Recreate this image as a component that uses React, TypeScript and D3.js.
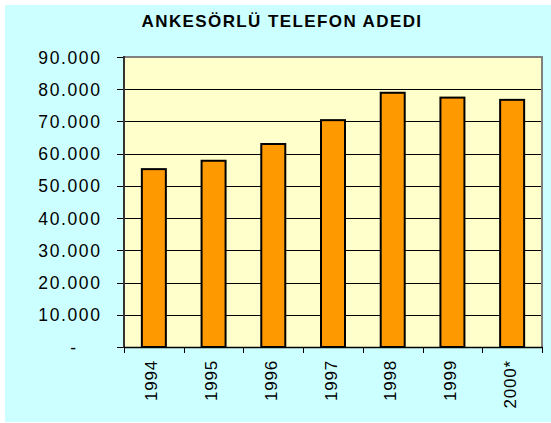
import React from "react";
import * as d3 from "d3";

const years = ["1994", "1995", "1996", "1997", "1998", "1999", "2000*"];
const counts = [55200, 57800, 63000, 70400, 78900, 77400, 76700];
const yTicks = [0, 10000, 20000, 30000, 40000, 50000, 60000, 70000, 80000, 90000];
const titleText = "ANKESÖRLÜ TELEFON ADEDI";

const W = 551;
const H = 423;
const plot = { left: 124, right: 542, top: 57, bottom: 347 };
const FONT = "'Liberation Sans', Arial, sans-serif";

function fmt(v: number): string {
  if (v === 0) return "-";
  return d3.format(",")(v).replace(/,/g, ".");
}

export default function App() {
  const x = d3
    .scaleBand<string>()
    .domain(years)
    .range([plot.left, plot.right])
    .paddingInner(0.6)
    .paddingOuter(0.3);
  const step = (plot.right - plot.left) / years.length;
  const bw = 24;
  const y = d3.scaleLinear().domain([0, 90000]).range([plot.bottom, plot.top]);

  return (
    <svg
      width={W}
      height={H}
      style={{ position: "absolute", left: 0, top: 0 }}
      fontFamily={FONT}
    >
      <rect x={0} y={0} width={W} height={H} fill="#ffffff" />
      <rect x={5} y={5} width={W - 5} height={H - 6} fill="#ccffff" />
      <text
        x={282}
        y={27}
        textAnchor="middle"
        fontSize={17}
        fontWeight="bold"
        letterSpacing={1.4}
        fill="#000"
      >
        {titleText}
      </text>
      <rect
        x={plot.left}
        y={plot.top}
        width={plot.right - plot.left}
        height={plot.bottom - plot.top}
        fill="#ffffcc"
      />
      {yTicks.map((t) => (
        <g key={t}>
          {t > 0 && (
            <line
              x1={plot.left}
              x2={plot.right}
              y1={Math.round(y(t)) + 0.5}
              y2={Math.round(y(t)) + 0.5}
              stroke="#000"
              strokeWidth={1}
            />
          )}
          <line
            x1={plot.left - 7}
            x2={plot.left}
            y1={Math.round(y(t)) + 0.5}
            y2={Math.round(y(t)) + 0.5}
            stroke="#000"
          />
          <text
            x={t === 0 ? 76 : 101.5}
            y={y(t) + 6.5}
            textAnchor="end"
            fontSize={17.5}
            letterSpacing={t === 0 ? 0 : 1.6}
            fill="#000"
          >
            {fmt(t)}
          </text>
        </g>
      ))}
      <line x1={plot.right} x2={plot.right} y1={plot.top} y2={plot.bottom} stroke="#808080" strokeWidth={2} />
      <line x1={plot.left} x2={plot.right + 1} y1={plot.top} y2={plot.top} stroke="#808080" strokeWidth={2} />
      {years.map((yr, i) => {
        const cx = (x(yr) as number) + x.bandwidth() / 2;
        const v = counts[i];
        return (
          <rect
            key={yr}
            x={cx - bw / 2}
            y={y(v)}
            width={bw}
            height={plot.bottom - y(v)}
            fill="#ff9900"
            stroke="#000"
            strokeWidth={2}
          />
        );
      })}
      <line x1={plot.left} x2={plot.left} y1={plot.top - 1} y2={plot.bottom + 1} stroke="#333" strokeWidth={2} />
      <line x1={plot.left} x2={plot.right + 1} y1={plot.bottom + 0.5} y2={plot.bottom + 0.5} stroke="#000" strokeWidth={1.5} />
      {d3.range(years.length + 1).map((i) => {
        const tx = Math.round(plot.left + i * step) + 0.5;
        return <line key={i} x1={tx} x2={tx} y1={plot.bottom} y2={plot.bottom + 6} stroke="#000" />;
      })}
      {years.map((yr) => {
        const cx = (x(yr) as number) + x.bandwidth() / 2;
        return (
          <text
            key={yr}
            transform={`translate(${cx + 3.5},${360}) rotate(-90)`}
            textAnchor="end"
            fontSize={17}
            letterSpacing={0.8}
            fill="#000"
          >
            {yr}
          </text>
        );
      })}
    </svg>
  );
}
